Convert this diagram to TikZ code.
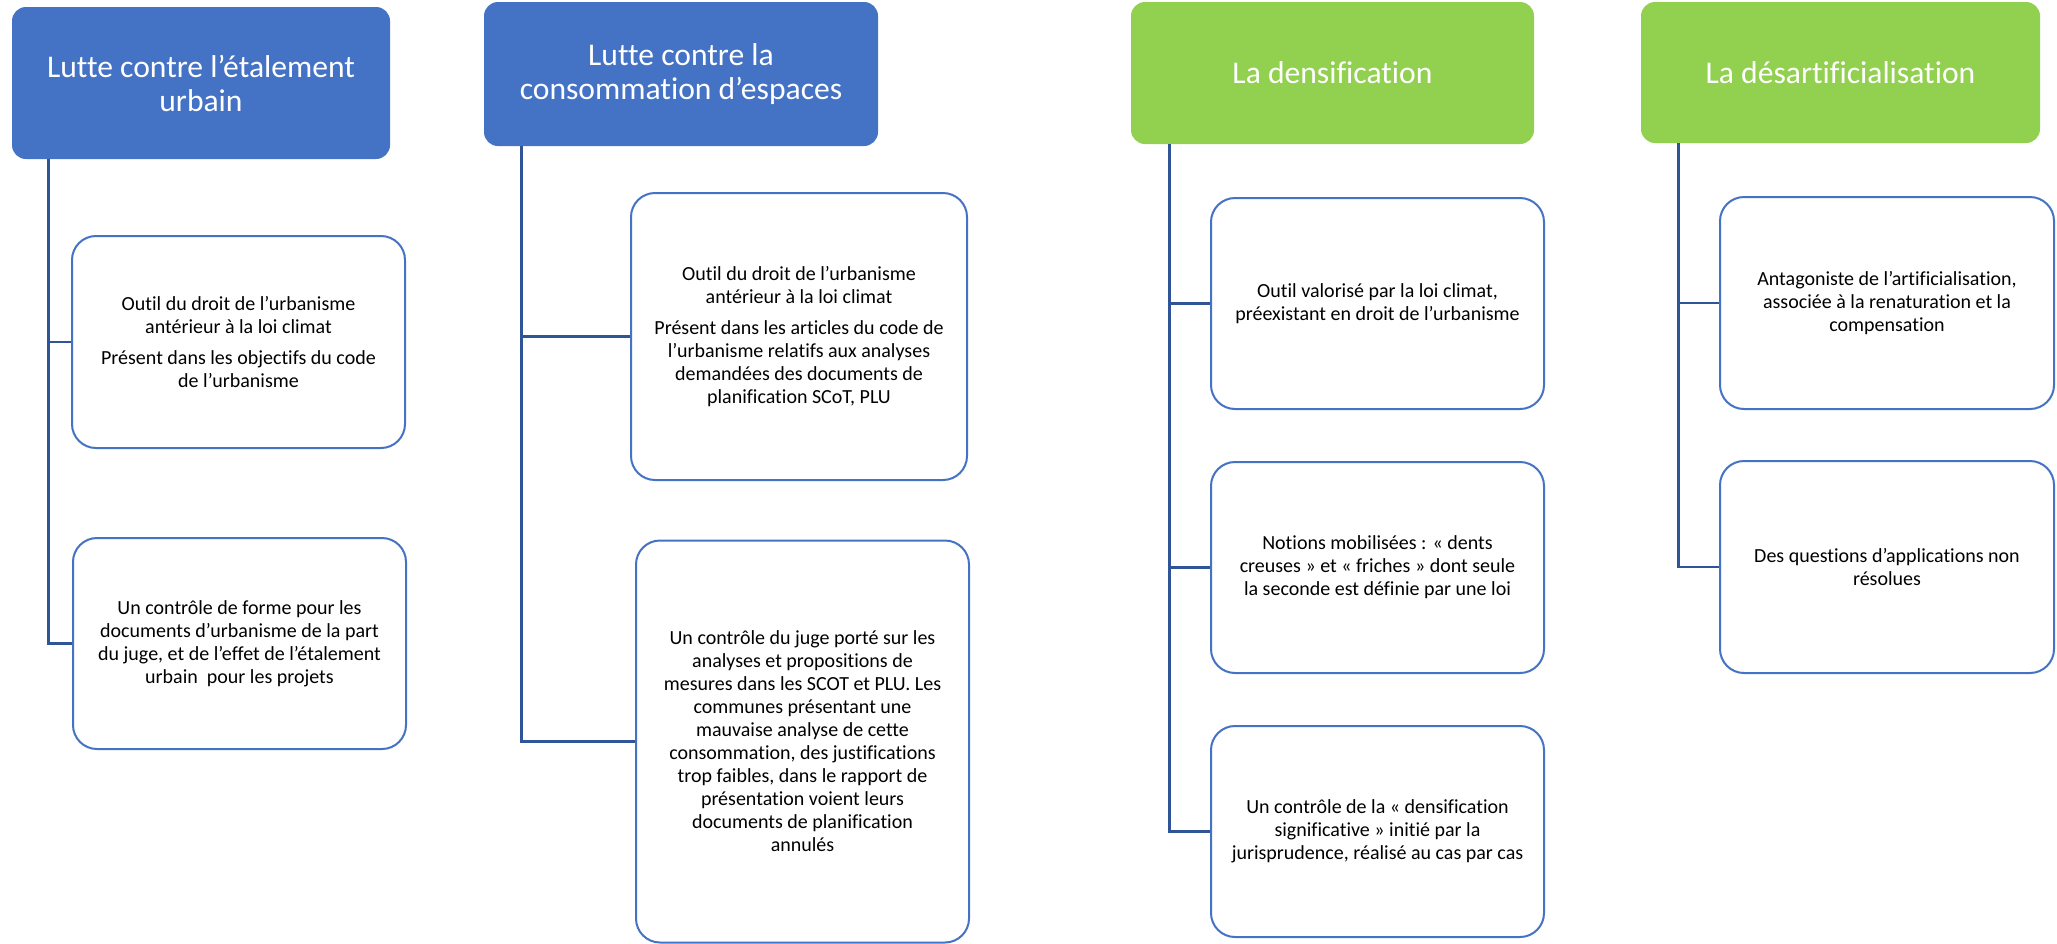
\documentclass[tikz,border=0pt]{standalone}
\usepackage{fontspec}
\setmainfont{Carlito}[Ligatures=NoCommon]
\usepackage{tikz}

\definecolor{bleu}{HTML}{4472C4}
\definecolor{vert}{HTML}{92D050}
\definecolor{trait}{HTML}{2F5597}

\tikzset{
  titre/.style={rounded corners=7pt, inner sep=0pt, align=center, text=white,
    font=\fontsize{15.8}{17}\selectfont},
  bloc/.style={draw=bleu, line width=1pt, rounded corners=12pt, fill=white,
    minimum width=166.5pt, inner sep=0pt, align=center,
    font=\fontsize{10}{11.5}\selectfont},
  lien/.style={draw=trait, line width=1.2pt}
}

\begin{document}
\begin{tikzpicture}[x=0.5pt, y=-0.5pt]
    \useasboundingbox (0,0) rectangle (2057,943);
      \node (A) [titre, fill=bleu, minimum width=189pt, minimum height=76pt] at (201,83) {Lutte contre l’étalement\\urbain};
      \node (B) [titre, fill=bleu, minimum width=197pt, minimum height=72pt] at (681,74) {Lutte contre la\\consommation d’espaces};
      \node (C) [titre, fill=vert, minimum width=201.5pt, minimum height=71pt] at (1332.5,73) {La densification};
      \node (D) [titre, fill=vert, minimum width=199.5pt, minimum height=70.5pt] at (1840.5,72.5) {La désartificialisation};
      \node (A1) [bloc, minimum height=106pt] at (238.5,342) {Outil du droit de l’urbanisme\\antérieur à la loi climat\\[4pt]Présent dans les objectifs du code\\de l’urbanisme};
      \node (A2) [bloc, minimum height=105.5pt] at (239.5,643.5) {Un contrôle de forme pour les\\documents d’urbanisme de la part\\du juge, et de l’effet de l’étalement\\urbain\ \ pour les projets};
      \node (B1) [bloc, minimum width=168pt, minimum height=143.5pt] at (799,336.5) {Outil du droit de l’urbanisme\\antérieur à la loi climat\\[4pt]Présent dans les articles du code de\\l’urbanisme relatifs aux analyses\\demandées des documents de\\planification SCoT, PLU};
      \node (B2) [bloc, minimum height=201pt] at (802.5,741.5) {Un contrôle du juge porté sur les\\analyses et propositions de\\mesures dans les SCOT et PLU. Les\\communes présentant une\\mauvaise analyse de cette\\consommation, des justifications\\trop faibles, dans le rapport de\\présentation voient leurs\\documents de planification\\annulés};
      \node (C1) [bloc, minimum height=105.5pt] at (1377.5,303.5) {Outil valorisé par la loi climat,\\préexistant en droit de l’urbanisme};
      \node (C2) [bloc, minimum height=105.5pt] at (1377.5,567.5) {Notions mobilisées : « dents\\creuses » et « friches » dont seule\\la seconde est définie par une loi};
      \node (C3) [bloc, minimum height=105.5pt] at (1377.5,831.5) {Un contrôle de la « densification\\significative » initié par la\\jurisprudence, réalisé au cas par cas};
      \node (D1) [bloc, minimum width=167pt, minimum height=106pt] at (1887,303) {Antagoniste de l’artificialisation,\\associée à la renaturation et la\\compensation};
      \node (D2) [bloc, minimum width=167pt, minimum height=106pt] at (1887,567) {Des questions d’applications non\\résolues};
    \draw [lien] ([xshift=18.5pt]A.south west) |- (A1.west);
    \draw [lien] ([xshift=18.5pt]A.south west) |- (A2.west);
    \draw [lien] ([xshift=19pt]B.south west) |- (B1.west);
    \draw [lien] ([xshift=19pt]B.south west) |- (B2.west);
    \draw [lien] ([xshift=19.5pt]C.south west) |- (C1.west);
    \draw [lien] ([xshift=19.5pt]C.south west) |- (C2.west);
    \draw [lien] ([xshift=19.5pt]C.south west) |- (C3.west);
    \draw [lien] ([xshift=19pt]D.south west) |- (D1.west);
    \draw [lien] ([xshift=19pt]D.south west) |- (D2.west);
      \end{tikzpicture}
\end{document}
